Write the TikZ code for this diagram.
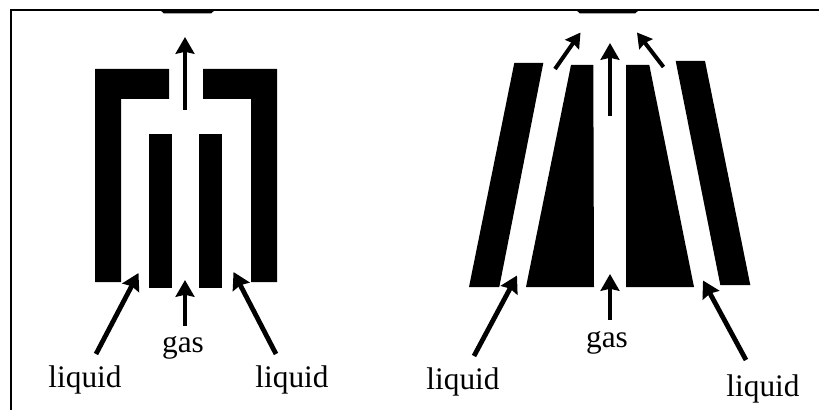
\documentclass[tikz,border=0pt]{standalone}
\usepackage{fontspec}
\setmainfont{Liberation Serif}
\usetikzlibrary{arrows.meta}
\tikzset{
  flow/.style={line width=3.6pt,-{Stealth[length=12.5pt,width=14pt,inset=1.4pt]}},
  thinflow/.style={line width=3pt,-{Stealth[length=11pt,width=12.5pt,inset=1.2pt]}},
  tag/.style={font=\fontsize{23.5}{25}\selectfont,inner sep=0pt},
}

\begin{document}
\begin{tikzpicture}[x=0.75pt,y=-0.75pt]
  \useasboundingbox (0,0) rectangle (819,410);
  % frame
  \draw[line width=2.1pt] (11,410) -- (11,10) -- (819,10);
  \fill (160,10) -- (215,10) -- (211,13.5) -- (164,13.5) -- cycle;
  \fill (576,10) -- (639,10) -- (635,13.5) -- (580,13.5) -- cycle;

  % straight nozzle
  \fill (95,69) -- (169,69) -- (169,99) -- (121,99) -- (121,282) -- (95,282) -- cycle;
  \fill (203,69) -- (277,69) -- (277,282) -- (251,282) -- (251,99) -- (203,99) -- cycle;
  \fill (149,134) rectangle (172,288);
  \fill (199,134) rectangle (222,288);
  \node[tag] (gasA) at (183,348) {gas};
  \node[tag] (liquidA) at (85,380) {liquid};
  \node[tag] (liquidB) at (292,380) {liquid};
  \coordinate (outA) at (185,37);
  \coordinate (outB) at (185,110);
  \coordinate (gasAin) at (185,280);
  \coordinate (gasAtail) at (185,326);
  \coordinate (liqAin) at (138.5,273);
  \coordinate (liqAtail) at (96,354);
  \coordinate (liqBin) at (233.5,272);
  \coordinate (liqBtail) at (276,354);
  \draw[flow] (outB) -- (outA);
  \draw[flow] (gasAtail) -- (gasAin);
  \draw[flow] (liqAtail) -- (liqAin);
  \draw[flow] (liqBtail) -- (liqBin);

  % tapered nozzle
  \fill (514.3,63) -- (543.3,63) -- (499.3,287) -- (469,287) -- cycle;
  \fill (571,65) -- (593.3,65) -- (594,287) -- (526,287) -- cycle;
  \fill (626,65) -- (649.3,65) -- (694,287) -- (626,287) -- cycle;
  \fill (675.7,61) -- (705,61) -- (750.3,285) -- (720.3,285) -- cycle;
  \node[tag] (gasB) at (607,343) {gas};
  \node[tag] (liquidC) at (463,382) {liquid};
  \node[tag] (liquidD) at (763,389) {liquid};
  \coordinate (midhead) at (610,43);
  \coordinate (midtail) at (610,116);
  \coordinate (lefthead) at (580.5,32.5);
  \coordinate (lefttail) at (555,69);
  \coordinate (righthead) at (637,32.5);
  \coordinate (righttail) at (663.5,67);
  \coordinate (gasBin) at (610,274);
  \coordinate (gasBtail) at (610,320);
  \coordinate (liqCin) at (517,275.5);
  \coordinate (liqCtail) at (474,356);
  \coordinate (liqDin) at (703,280.5);
  \coordinate (liqDtail) at (746,360);
  \draw[flow] (midtail) -- (midhead);
  \draw[thinflow] (lefttail) -- (lefthead);
  \draw[thinflow] (righttail) -- (righthead);
  \draw[flow] (gasBtail) -- (gasBin);
  \draw[flow] (liqCtail) -- (liqCin);
  \draw[flow] (liqDtail) -- (liqDin);
\end{tikzpicture}
\end{document}
